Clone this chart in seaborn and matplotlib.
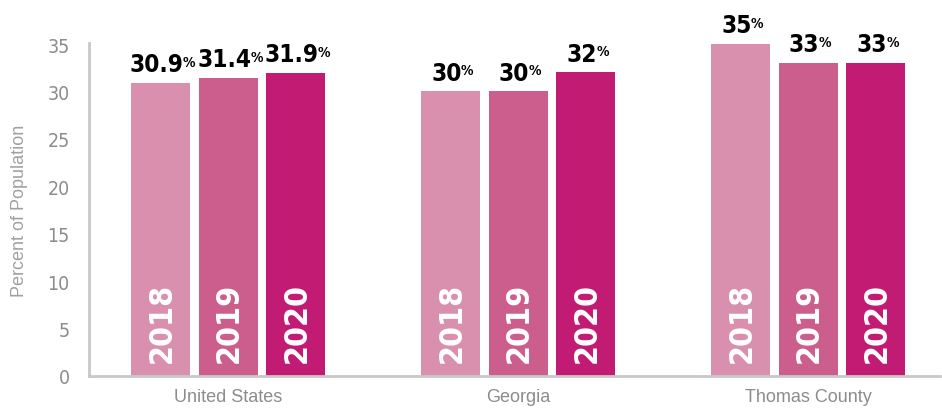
import matplotlib
matplotlib.use("Agg")
import matplotlib.pyplot as plt
import seaborn as sns
import pandas as pd

# Share of population by area and year
areas = ["United States", "Georgia", "Thomas County"]
years = ["2018", "2019", "2020"]
values_2018 = [30.9, 30, 35]
values_2019 = [31.4, 30, 33]
values_2020 = [31.9, 32, 33]
value_labels_2018 = ["30.9", "30", "35"]
value_labels_2019 = ["31.4", "30", "33"]
value_labels_2020 = ["31.9", "32", "33"]
yticks = [0, 5, 10, 15, 20, 25, 30, 35]

colors = ["#D990AE", "#CB5E8D", "#C21B74"]

df = pd.DataFrame({
    "area": areas * 3,
    "year": [y for y in years for _ in areas],
    "value": values_2018 + values_2019 + values_2020,
    "label": value_labels_2018 + value_labels_2019 + value_labels_2020,
})

sns.set_theme(style="white")
plt.rcParams["font.family"] = ["Liberation Sans", "DejaVu Sans"]
cond = dict(family="DejaVu Sans", stretch="condensed")

fig = plt.figure(figsize=(9.42, 4.10), dpi=100)
ax = fig.add_axes([0.0945, 0.0805, 0.9035, 0.812])

sns.barplot(data=df, x="area", y="value", hue="year", order=areas,
            hue_order=years, palette=colors, width=0.70, gap=0.13,
            saturation=1, legend=False, linewidth=0, ax=ax)

ax.set_ylim(0, 35.1)
ax.set_xlim(-0.48, 2.455)
ax.set_yticks(yticks)
ax.set_yticklabels([str(t) for t in yticks], fontsize=14, color="#8C8C8C",
                   **cond)
ax.tick_params(axis="both", length=0)
ax.tick_params(axis="y", pad=14)
ax.tick_params(axis="x", pad=9)
for lbl in ax.get_xticklabels():
    lbl.set_fontsize(13)
    lbl.set_color("#8C8C8C")
ax.set_xlabel("")
ax.set_ylabel("Percent of Population", fontsize=13, color="#A0A0A0",
              labelpad=14)

for side in ["top", "right"]:
    ax.spines[side].set_visible(False)
for side in ["left", "bottom"]:
    ax.spines[side].set_color("#C8C8C8")
    ax.spines[side].set_linewidth(2)

# Value labels above bars and year labels inside bars
for container, year in zip(ax.containers, years):
    sub = df[df["year"] == year].set_index("area").loc[areas]
    for bar, val, lab in zip(container.patches, sub["value"], sub["label"]):
        cx = bar.get_x() + bar.get_width() / 2
        t = ax.annotate(lab, xy=(cx - 0.014, val), xytext=(0, 5),
                        textcoords="offset points", ha="center", va="bottom",
                        fontsize=17.5, fontweight="bold", color="black",
                        **cond)
        ax.annotate("%", xy=(1, 1), xycoords=t, xytext=(-0.5, -2),
                    textcoords="offset points", ha="left", va="top",
                    fontsize=10, fontweight="bold", color="black", **cond)
        ax.annotate(year, xy=(cx, 0), xytext=(1, 10),
                    textcoords="offset points", ha="center", va="bottom",
                    rotation=90, fontsize=23, fontweight="bold",
                    color="white", **cond)

fig.savefig("out.png", dpi=100)
